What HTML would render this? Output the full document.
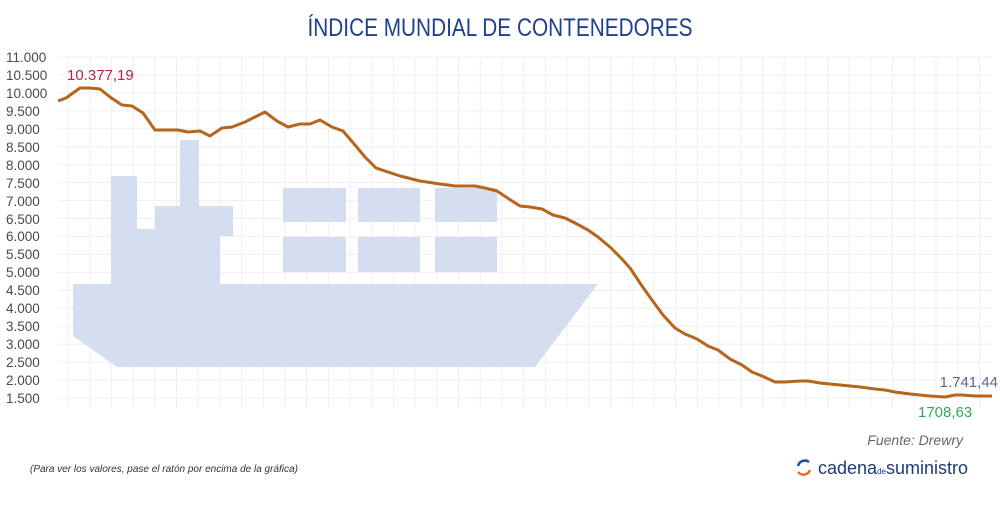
<!DOCTYPE html>
<html><head><meta charset="utf-8"><style>
body{margin:0;background:#fff;width:1000px;height:500px;overflow:hidden;font-family:"Liberation Sans",sans-serif}
</style></head><body>
<svg width="1000" height="500" xmlns="http://www.w3.org/2000/svg" font-family="Liberation Sans, sans-serif">
<text x="500" y="36" text-anchor="middle" font-size="25" fill="#1f3f8f" textLength="385" lengthAdjust="spacingAndGlyphs">ÍNDICE MUNDIAL DE CONTENEDORES</text>
<g id="grid"></g>
<g fill="#d5ddf0">
<polygon points="73,284 598,284 535,367 117,367 73,336"/>
<rect x="111" y="176" width="26" height="109"/>
<rect x="136" y="229" width="20" height="56"/>
<rect x="155" y="206" width="65" height="79"/>
<rect x="219" y="206" width="14" height="30"/>
<rect x="180" y="140" width="19" height="67"/>
<rect x="283" y="188" width="63" height="34"/><rect x="358" y="188" width="62" height="34"/><rect x="435" y="188" width="62" height="34"/>
<rect x="283" y="237" width="63" height="35"/><rect x="358" y="237" width="62" height="35"/><rect x="435" y="237" width="62" height="35"/>
</g>
<g font-size="13.5" fill="#4a4a4a">
<text x="6" y="62">11.000</text><text x="6" y="80">10.500</text><text x="6" y="98">10.000</text>
<text x="6" y="116">9.500</text><text x="6" y="134">9.000</text><text x="6" y="152">8.500</text>
<text x="6" y="170">8.000</text><text x="6" y="188">7.500</text><text x="6" y="206">7.000</text>
<text x="6" y="224">6.500</text><text x="6" y="241">6.000</text><text x="6" y="259">5.500</text>
<text x="6" y="277">5.000</text><text x="6" y="295">4.500</text><text x="6" y="313">4.000</text>
<text x="6" y="331">3.500</text><text x="6" y="349">3.000</text><text x="6" y="367">2.500</text>
<text x="6" y="385">2.000</text><text x="6" y="403">1.500</text>
</g>
<polyline fill="none" stroke="#b5651d" stroke-width="3" stroke-linejoin="round" points="58,101 66,98 80,88 90,88 100,89 110,97 122,105 132,106 143,113 155,130 165,130 178,130 188,132 200,131 210,136 222,128 232,127 245,122 255,117 265,112 277,121 288,127 300,124 310,124 320,120 332,127 343,131 355,145 365,157 376,168 388,172 400,176 420,181 440,184 455,186 475,186 485,188 497,191 509,199 520,206 530,207 542,209 553,215 565,218 575,223 588,230 598,237 610,247 621,258 630,268 642,286 652,300 663,315 675,328 685,334 697,339 708,346 718,350 730,359 742,365 752,372 762,376 775,382 785,382 800,381 808,381 820,383 840,385 860,387 875,389 885,390 895,392 910,394 930,396 945,397 955,395 962,395 975,396 992,396"/>
<text x="67" y="80" font-size="15" fill="#b5234a">10.377,19</text>
<text x="998" y="387" font-size="15" fill="#5a6a8a" text-anchor="end">1.741,44</text>
<text x="918" y="417" font-size="15" fill="#2eaa5a">1708,63</text>
<text x="963" y="445" font-size="14" font-style="italic" fill="#666" text-anchor="end">Fuente: Drewry</text>
<text x="30" y="472" font-size="10" font-style="italic" fill="#333">(Para ver los valores, pase el ratón por encima de la gráfica)</text>
<g fill="none" stroke-width="2.5"><path d="M798,466 A7,7 0 0 1 809,462" stroke="#2a4a9a"/><path d="M810,470 A7,7 0 0 1 798,472" stroke="#e8692a"/></g>
<text x="818" y="474" font-size="18" fill="#1f3a7a" textLength="150" lengthAdjust="spacingAndGlyphs">cadena<tspan font-size="8">de</tspan>suministro</text>
</svg>
<script>
var g=document.getElementById('grid'),s='';
for(var i=0;i<20;i++){var y=57+i*17.95;s+='<line x1="58" x2="992" y1="'+y+'" y2="'+y+'" stroke="#efefef"/>';}
for(var x=68;x<992;x+=21.7){s+='<line x1="'+x+'" x2="'+x+'" y1="57" y2="408" stroke="#efefef"/>';}
g.innerHTML=s;
</script>
</body></html>
